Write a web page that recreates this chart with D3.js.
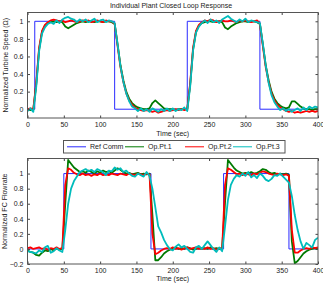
<!DOCTYPE html>
<html>
<head>
<meta charset="utf-8">
<script src="https://cdn.jsdelivr.net/npm/d3@7"></script>
<style>
  body { margin: 0; background: #fff; }
  svg { display: block; font-family: "Liberation Sans", Arial, sans-serif; }
  .tick text { fill: #222; }
</style>
</head>
<body>
<div id="graf"></div>
<script>
// sample grid, seconds
const time = d3.range(0, 401, 4)

// top panel: turbine speed
const refTopT = [0, 10, 10, 120, 120, 220, 220, 320, 320, 400]
const refTopV = [0, 0, 1, 1, 0, 0, 1, 1, 0, 0]
const speedOp1 = [
  0.00, -0.01, 0.00, 0.28, 0.68, 0.88, 0.95, 0.98, 0.99, 1.00,
  0.99, 1.00, 0.99, 0.94, 0.92, 0.94, 0.96, 0.98, 0.99, 1.00,
  0.99, 1.00, 1.00, 0.99, 1.00, 1.00, 0.99, 1.00, 1.00, 0.99,
  0.97, 0.74, 0.50, 0.33, 0.20, 0.12, 0.07, 0.04, 0.02, 0.01,
  0.00, 0.00, 0.01, 0.07, 0.10, 0.07, 0.04, 0.01, 0.00, 0.00,
  0.00, -0.01, 0.00, 0.00, 0.00, 0.00, 0.28, 0.68, 0.88, 0.95,
  0.98, 0.99, 1.00, 1.00, 0.99, 1.00, 1.00, 0.99, 0.93, 0.91,
  0.94, 0.96, 0.98, 0.99, 1.00, 1.00, 0.99, 1.00, 1.00, 0.99,
  0.97, 0.74, 0.50, 0.33, 0.20, 0.12, 0.07, 0.04, 0.02, 0.01,
  0.02, 0.09, 0.09, 0.06, 0.03, 0.01, 0.00, 0.00, -0.01, 0.00,
  0.00
]
const speedOp2 = [
  0.00, 0.01, 0.00, 0.30, 0.70, 0.89, 0.96, 0.99, 1.01, 1.02,
  1.01, 1.00, 1.01, 0.99, 1.00, 1.01, 1.00, 0.99, 1.00, 1.01,
  1.00, 1.01, 0.99, 1.00, 1.01, 1.00, 0.99, 1.01, 1.00, 1.00,
  0.97, 0.72, 0.48, 0.31, 0.18, 0.10, 0.05, 0.02, 0.00, -0.01,
  -0.02, -0.01, -0.02, -0.03, -0.02, -0.04, -0.03, -0.02, -0.01, -0.02,
  -0.01, 0.00, -0.01, 0.00, -0.01, 0.00, 0.30, 0.70, 0.89, 0.96,
  0.99, 1.01, 1.00, 1.02, 1.01, 0.99, 1.00, 1.01, 1.00, 1.00,
  1.01, 1.00, 0.99, 1.01, 1.00, 1.01, 1.00, 0.99, 1.00, 1.01,
  0.97, 0.72, 0.48, 0.31, 0.18, 0.10, 0.05, 0.02, 0.00, -0.02,
  -0.03, -0.02, -0.04, -0.03, -0.04, -0.03, -0.02, -0.03, -0.02, -0.03,
  -0.02
]
const speedOp3 = [
  -0.02, 0.01, -0.03, 0.25, 0.66, 0.86, 0.93, 0.97, 0.99, 0.97,
  1.01, 0.98, 1.02, 1.04, 1.05, 1.03, 1.02, 0.99, 1.02, 1.00,
  1.02, 0.99, 1.01, 1.03, 0.99, 1.01, 1.02, 0.99, 1.01, 1.00,
  0.98, 0.74, 0.49, 0.31, 0.18, 0.09, 0.03, 0.01, -0.02, 0.01,
  -0.02, 0.00, -0.03, 0.01, -0.01, -0.03, 0.00, -0.02, 0.01, -0.02,
  0.01, -0.02, 0.00, -0.01, 0.02, -0.02, 0.26, 0.67, 0.87, 0.94,
  0.98, 1.01, 0.98, 1.02, 0.99, 1.01, 0.98, 1.02, 1.04, 1.06,
  1.03, 1.01, 0.99, 1.02, 1.00, 1.03, 0.99, 1.01, 1.00, 0.99,
  0.98, 0.75, 0.50, 0.30, 0.16, 0.08, 0.03, -0.01, 0.01, -0.02,
  0.00, -0.03, -0.01, 0.01, -0.02, 0.02, -0.01, 0.03, 0.01, 0.03,
  0.02
]

// bottom panel: FC flowrate
const refBotT = [0, 50, 50, 170, 170, 270, 270, 360, 360, 400]
const refBotV = [0, 0, 1, 1, 0, 0, 1, 1, 0, 0]
const flowOp1 = [
  -0.02, -0.04, -0.05, -0.08, -0.09, -0.05, -0.02, -0.03, 0.00, -0.02,
  0.01, -0.01, 0.00, 0.60, 1.18, 1.13, 1.08, 1.05, 1.02, 1.03,
  1.01, 1.04, 1.02, 1.00, 1.03, 1.01, 1.04, 1.02, 1.03, 1.01,
  1.04, 1.07, 1.05, 1.02, 1.00, 1.01, 0.99, 1.00, 1.01, 0.99,
  1.00, 0.99, 1.00, 0.45, -0.15, -0.15, -0.11, -0.06, -0.03, -0.01,
  0.00, 0.02, 0.00, 0.01, 0.00, 0.02, 0.01, -0.01, 0.00, 0.01,
  0.00, 0.01, 0.00, 0.02, 0.00, 0.01, 0.00, 0.01, 0.62, 1.18,
  1.13, 1.08, 1.04, 1.02, 1.00, 1.01, 1.00, 1.02, 1.00, 1.01,
  1.03, 1.06, 1.05, 1.02, 1.00, 1.01, 0.99, 1.00, 0.99, 1.00,
  0.98, 0.10, -0.19, -0.16, -0.11, -0.06, -0.03, -0.01, 0.00, 0.01,
  0.00
]
const flowOp2 = [
  0.01, 0.02, 0.00, 0.01, 0.02, 0.00, 0.01, -0.01, 0.01, 0.00,
  0.02, 0.00, 0.01, 0.85, 1.07, 1.05, 1.01, 0.99, 0.98, 1.00,
  0.98, 0.99, 0.97, 0.99, 0.98, 1.00, 0.98, 0.99, 0.98, 1.00,
  0.99, 0.98, 1.00, 0.99, 0.98, 1.00, 0.99, 0.98, 1.00, 0.99,
  0.98, 1.00, 0.99, 0.20, -0.07, -0.05, -0.02, 0.00, 0.01, 0.00,
  0.02, 0.00, 0.01, -0.01, 0.01, 0.02, 0.00, 0.01, 0.02, 0.00,
  0.01, 0.00, 0.02, 0.00, 0.01, -0.01, 0.01, 0.00, 0.85, 1.07,
  1.05, 1.02, 0.99, 1.00, 0.98, 1.00, 0.99, 0.98, 1.00, 0.99,
  1.01, 1.03, 1.02, 1.00, 0.99, 0.98, 1.00, 0.99, 0.98, 0.99,
  0.97, 0.25, -0.05, -0.05, -0.02, 0.00, 0.01, 0.00, 0.02, 0.01,
  0.02
]
const flowOp3 = [
  -0.03, -0.04, -0.05, -0.06, -0.02, -0.04, 0.02, 0.04, -0.05, -0.03,
  0.01, -0.02, -0.04, 0.25, 0.60, 0.80, 0.90, 0.96, 1.02, 1.04,
  1.06, 1.03, 1.05, 1.02, 1.06, 1.04, 1.02, 0.98, 1.04, 1.03,
  1.08, 1.05, 1.07, 1.02, 1.04, 1.00, 0.97, 0.96, 1.00, 0.98,
  0.96, 1.02, 0.97, 0.80, 0.55, 0.30, 0.22, 0.12, 0.05, 0.00,
  -0.02, 0.03, 0.06, 0.02, 0.04, 0.00, -0.04, -0.05, 0.02, 0.04,
  0.00, 0.05, 0.10, 0.05, 0.00, -0.04, 0.02, -0.03, 0.30, 0.65,
  0.85, 0.93, 0.98, 0.96, 1.00, 0.97, 1.02, 0.95, 0.98, 0.94,
  1.00, 0.97, 0.92, 0.90, 0.93, 0.98, 0.97, 1.00, 0.96, 0.92,
  0.88, 0.70, 0.45, 0.25, 0.10, 0.00, 0.08, 0.05, 0.02, 0.12,
  0.15
]

const xTicks = [0, 50, 100, 150, 200, 250, 300, 350, 400]
const yTicksTop = [0, 0.2, 0.4, 0.6, 0.8, 1]
const yTicksBot = [-0.2, 0, 0.2, 0.4, 0.6, 0.8, 1]
const seriesNames = ["Ref Comm", "Op.Pt.1", "Op.Pt.2", "Op.Pt.3"]
const colores = ["#2a2aff", "#007a00", "#ff0000", "#00bcbc"]

const anchoTotal = 323
const altoTotal = 283

const svg = d3.select("#graf")
  .append("svg")
  .attr("width", anchoTotal)
  .attr("height", altoTotal)

const panel = (cfg) => {
  const x = d3.scaleLinear().domain([0, 400]).range([cfg.left, cfg.right])
  const y = d3.scaleLinear().domain(cfg.yDomain).range([cfg.bottom, cfg.top])
  const g = svg.append("g")

  // lines
  const linea = d3.line().x(d => x(d[0])).y(d => y(d[1]))
  const clip = "clip" + cfg.id
  svg.append("clipPath").attr("id", clip)
    .append("rect")
    .attr("x", cfg.left).attr("y", cfg.top)
    .attr("width", cfg.right - cfg.left).attr("height", cfg.bottom - cfg.top)
  const gl = g.append("g").attr("clip-path", `url(#${clip})`)
  const refPts = d3.zip(cfg.refT, cfg.refV)
  gl.append("path").attr("d", linea(refPts))
    .attr("fill", "none").attr("stroke", colores[0]).attr("stroke-width", 1)
  cfg.series.forEach((s, i) => {
    gl.append("path").attr("d", linea(d3.zip(time, s)))
      .attr("fill", "none").attr("stroke", colores[i + 1])
      .attr("stroke-width", 1.8).attr("stroke-linejoin", "round")
  })

  // axes with inward ticks, box style
  const fmt = d3.format("")
  g.append("g").attr("transform", `translate(0,${cfg.bottom})`)
    .call(d3.axisBottom(x).tickValues(xTicks).tickSize(-2.5).tickPadding(4).tickFormat(fmt))
  g.append("g").attr("transform", `translate(0,${cfg.top})`)
    .call(d3.axisTop(x).tickValues(xTicks).tickSize(-2.5).tickFormat(""))
  g.append("g").attr("transform", `translate(${cfg.left},0)`)
    .call(d3.axisLeft(y).tickValues(cfg.yTicks).tickSize(-2.5).tickPadding(4).tickFormat(fmt))
  g.append("g").attr("transform", `translate(${cfg.right},0)`)
    .call(d3.axisRight(y).tickValues(cfg.yTicks).tickSize(-2.5).tickFormat(""))
  g.selectAll(".domain").remove()
  g.selectAll(".tick line").attr("stroke", "#444")
  g.selectAll(".tick text").attr("font-size", 7).attr("font-family", "Liberation Sans, Arial, sans-serif")
  g.append("rect")
    .attr("x", cfg.left).attr("y", cfg.top)
    .attr("width", cfg.right - cfg.left).attr("height", cfg.bottom - cfg.top)
    .attr("fill", "none").attr("stroke", "#555").attr("stroke-width", 1)

  g.append("text")
    .attr("x", (cfg.left + cfg.right) / 2).attr("y", cfg.xLabelY)
    .attr("text-anchor", "middle").attr("font-size", 7).attr("fill", "#222")
    .text("Time (sec)")
  g.append("text")
    .attr("transform", `translate(${cfg.yLabelX},${(cfg.top + cfg.bottom) / 2}) rotate(-90)`)
    .attr("text-anchor", "middle").attr("font-size", 7).attr("fill", "#222")
    .text(cfg.yLabel)
  return { x, y }
}

panel({
  id: "top", left: 27.5, right: 318, top: 12.5, bottom: 118,
  yDomain: [-0.1, 1.1], yTicks: yTicksTop,
  refT: refTopT, refV: refTopV, series: [speedOp1, speedOp2, speedOp3],
  xLabelY: 136, yLabelX: 8, yLabel: "Normalized Turbine Speed (\u03A9)"
})

panel({
  id: "bot", left: 27.5, right: 318, top: 158.5, bottom: 264,
  yDomain: [-0.2, 1.2], yTicks: yTicksBot,
  refT: refBotT, refV: refBotV, series: [flowOp1, flowOp2, flowOp3],
  xLabelY: 281, yLabelX: 7, yLabel: "Normalized FC Flowrate"
})

// title
svg.append("text")
  .attr("x", 171).attr("y", 8)
  .attr("text-anchor", "middle").attr("font-size", 7).attr("fill", "#222")
  .text("Individual Plant Closed Loop Response")

// legend
const leyenda = svg.append("g")
leyenda.append("rect")
  .attr("x", 63.5).attr("y", 140.5).attr("width", 221.5).attr("height", 12.5)
  .attr("fill", "#fff").attr("stroke", "#555")
const legX = [67, 125, 185, 233]
seriesNames.forEach((n, i) => {
  leyenda.append("line")
    .attr("x1", legX[i]).attr("x2", legX[i] + 19)
    .attr("y1", 146.8).attr("y2", 146.8)
    .attr("stroke", colores[i]).attr("stroke-width", 1)
  leyenda.append("text")
    .attr("x", legX[i] + 23).attr("y", 149.3)
    .attr("font-size", 7).attr("fill", "#222")
    .text(n)
})
</script>
</body>
</html>
